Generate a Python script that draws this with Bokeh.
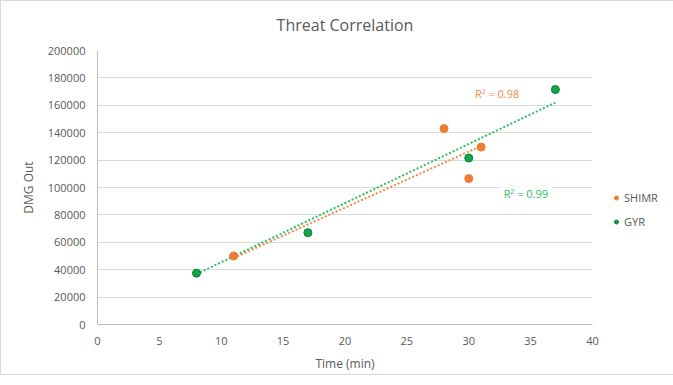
from bokeh.plotting import figure
from bokeh.models import (ColumnDataSource, Legend, LegendItem, Label,
                          SingleIntervalTicker, Range1d)
from bokeh.embed import file_html
from bokeh.resources import INLINE

# ---- data ----
shimr_time = [11, 28, 30, 31]
shimr_dmg = [50000, 143000, 106500, 129500]
gyr_time = [8, 17, 30, 37]
gyr_dmg = [37500, 67000, 121500, 171500]
# trendline end points as drawn in the reference
shimr_trend_time = [11, 31]
shimr_trend_dmg = [48500, 130300]
gyr_trend_time = [8, 37]
gyr_trend_dmg = [36800, 162000]
shimr_r2_text = "R\u00b2 = 0.98"
gyr_r2_text = "R\u00b2 = 0.99"

ORANGE = "#EE7D31"
ORANGE_TXT = "#F08A4B"
GREEN = "#0FA84A"
GREEN_EDGE = "#0B7A34"
GREEN_TXT = "#2EBE5C"
FONT = "Open Sans"
TXT = "#595959"

p = figure(frame_width=495, frame_height=274, output_backend="svg",
           toolbar_location=None,
           x_range=Range1d(0, 40), y_range=Range1d(0, 200000),
           min_border_left=96, min_border_right=0,
           min_border_top=48, min_border_bottom=47,
           title="Threat Correlation")
p.styles = {"border": "1px solid #d9d9d9", "box-sizing": "border-box"}
p.outline_line_color = None
p.background_fill_color = "white"
p.border_fill_color = "white"

p.title.align = "center"
p.title.vertical_align = "top"
p.title.offset = -7
p.title.text_font = FONT
p.title.text_font_size = "16px"
p.title.text_font_style = "normal"
p.title.text_color = TXT
p.title.standoff = 25

p.xgrid.grid_line_color = None
p.ygrid.grid_line_color = "#d9d9d9"
p.ygrid.grid_line_width = 1

p.xaxis.ticker = SingleIntervalTicker(interval=5)
p.yaxis.ticker = SingleIntervalTicker(interval=20000)
for ax in (p.xaxis[0], p.yaxis[0]):
    ax.major_label_text_font = FONT
    ax.major_label_text_font_size = "11px"
    ax.major_label_text_color = TXT
    ax.axis_label_text_font = FONT
    ax.axis_label_text_font_size = "12px"
    ax.axis_label_text_font_style = "normal"
    ax.axis_label_text_color = TXT
    ax.axis_line_color = "#bfbfbf"
    ax.major_tick_line_color = None
    ax.minor_tick_line_color = None
    ax.major_tick_out = 0
    ax.minor_tick_out = 0
p.yaxis.formatter.use_scientific = False
p.xaxis.axis_label = "Time (min)"
p.yaxis.axis_label = "DMG Out"
p.xaxis.major_label_standoff = 12
p.yaxis.major_label_standoff = 12
p.xaxis.axis_label_standoff = 7
p.yaxis.axis_label_standoff = 8

p.line(shimr_trend_time, shimr_trend_dmg, line_color=ORANGE_TXT, line_width=2,
       line_dash="2 2")
p.line(gyr_trend_time, gyr_trend_dmg, line_color=GREEN_TXT, line_width=2,
       line_dash="2 2")

src_s = ColumnDataSource(dict(x=shimr_time, y=shimr_dmg))
src_g = ColumnDataSource(dict(x=gyr_time, y=gyr_dmg))
r_s = p.scatter("x", "y", source=src_s, size=8, fill_color=ORANGE,
                line_color=ORANGE, line_width=1)
r_g = p.scatter("x", "y", source=src_g, size=8, fill_color=GREEN,
                line_color=GREEN_EDGE, line_width=1)

p.add_layout(Label(x=30.5, y=168600, text=shimr_r2_text, text_color=ORANGE_TXT,
                   text_font=FONT, text_font_size="11px", text_baseline="middle"))
p.add_layout(Label(x=32.5, y=95700, text=gyr_r2_text, text_color=GREEN_TXT,
                   text_font=FONT, text_font_size="11px", text_baseline="middle",
                   background_fill_color="white", padding=4))

legend = Legend(items=[LegendItem(label="SHIMR", renderers=[r_s]),
                       LegendItem(label="GYR", renderers=[r_g])],
                location="left", orientation="vertical",
                title=" ", title_text_font_size="14px", title_standoff=28,
                label_text_font=FONT, label_text_font_size="11px",
                label_text_color=TXT, glyph_width=10, glyph_height=14,
                label_height=14, label_standoff=3, spacing=9, padding=0,
                margin=19, border_line_color=None, background_fill_alpha=0)
p.add_layout(legend, "right")

open("out.html", "w").write(file_html(p, INLINE))
